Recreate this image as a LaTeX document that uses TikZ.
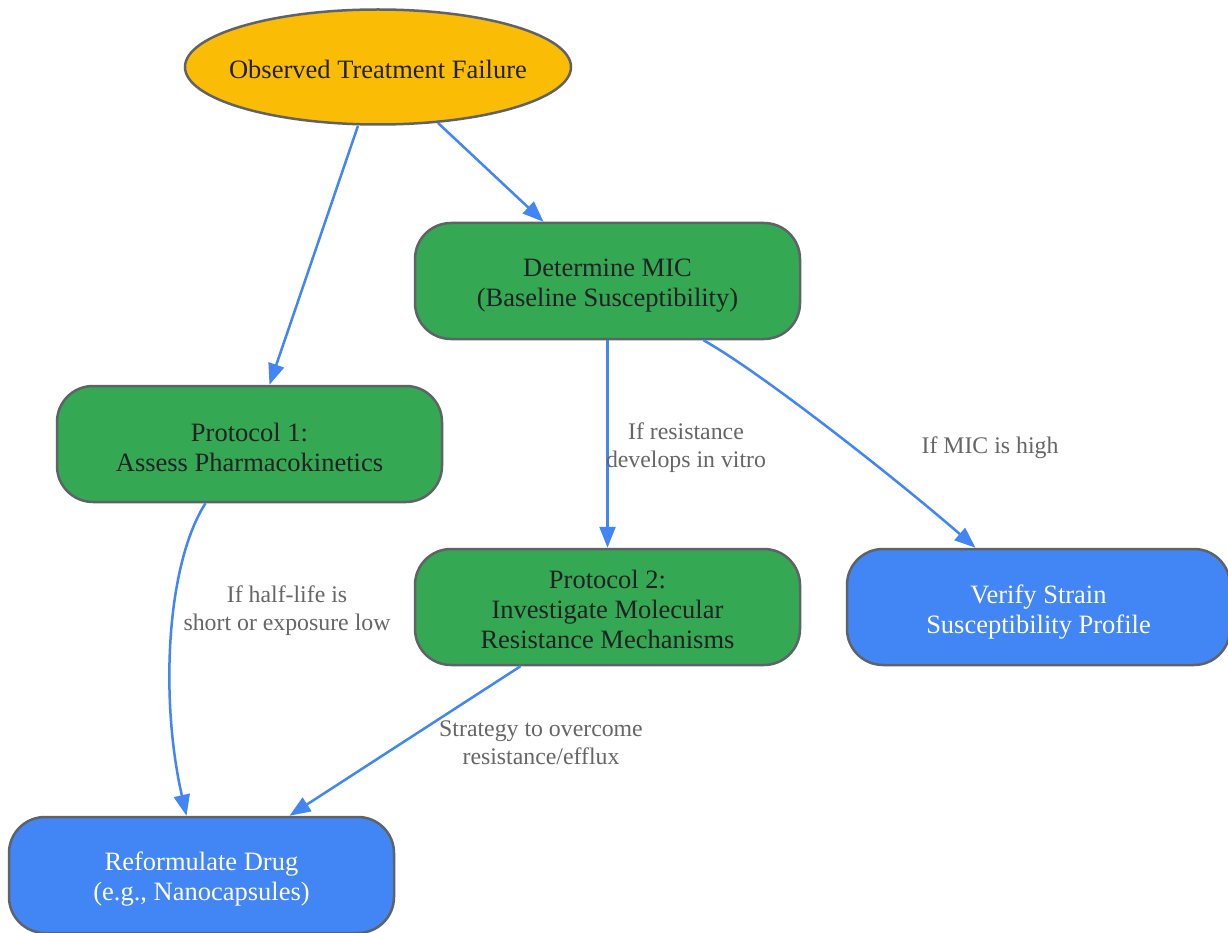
\documentclass[tikz,border=0pt]{standalone}
\usepackage{fontspec}
\setmainfont{Liberation Serif}
\usetikzlibrary{shapes.geometric,arrows.meta,calc}
\definecolor{cyellow}{HTML}{FBBC05}
\definecolor{cgreen}{HTML}{34A853}
\definecolor{cblue}{HTML}{4285F4}
\definecolor{cborder}{HTML}{5F6368}
\definecolor{ctext}{HTML}{202124}
\definecolor{clabel}{HTML}{666666}
\tikzset{
  box/.style={draw=cborder, line width=2.5pt, rounded corners=36pt, minimum width=385pt, minimum height=116pt, inner sep=0pt},
  boxtext/.style={align=center, inner sep=0pt, font=\fontsize{26.5}{30}\selectfont},
  greenbox/.style={box, fill=cgreen},
  bluebox/.style={box, fill=cblue},
  darktext/.style={boxtext, text=ctext},
  whitetext/.style={boxtext, text=white},
  startnode/.style={ellipse, draw=cborder, line width=2.5pt, fill=cyellow, minimum width=386pt, minimum height=115pt, inner sep=0pt},
  conn/.style={draw=cblue, line width=2.5pt, -{Triangle[length=21pt,width=16pt]}},
  lbl/.style={text=clabel, align=center, inner sep=0pt, font=\fontsize{23.8}{28}\selectfont}
}
\begin{document}
\begin{tikzpicture}[x=1pt,y=-1pt]
\useasboundingbox (0,0) rectangle (1228,933);
\clip (0,0) rectangle (1228,933);
\fill[white] (0,0) rectangle (1228,933);
\node[startnode, label={[darktext,yshift=-2pt]center:Observed Treatment Failure}] (start) at (378,67) {};
\node[greenbox, label={[darktext,yshift=-5pt]center:{Determine MIC\\(Baseline Susceptibility)}}] (mic) at (607.5,281) {};
\node[greenbox, label={[darktext,yshift=-3pt]center:{Protocol 1:\\Assess Pharmacokinetics}}] (p1) at (249.5,444) {};
\node[greenbox, label={[darktext,yshift=-2pt]center:{Protocol 2:\\Investigate Molecular\\Resistance Mechanisms}}] (p2) at (607.5,607) {};
\node[bluebox, minimum width=383pt, label={[whitetext,yshift=-5pt]center:{Verify Strain\\Susceptibility Profile}}] (verify) at (1038.5,607) {};
\node[bluebox, label={[whitetext,yshift=-4pt]center:{Reformulate Drug\\(e.g., Nanocapsules)}}] (reform) at (201.5,875) {};

\draw[conn] ([xshift=-20pt]start.south) -- ([xshift=20pt]p1.north);
\draw[conn] (start.-43) -- ([xshift=-64pt]mic.north);
\draw[conn] (mic.south) -- (p2.north);
\draw[conn] ([xshift=96pt]mic.south) .. controls (762,373) and (900,482) .. ([xshift=-63pt]verify.north);
\draw[conn] ([xshift=-44pt]p1.south) .. controls (166,565) and (160,700) .. ([xshift=-15pt]reform.north);
\draw[conn] ([xshift=-87pt]p2.south) -- ([xshift=88pt]reform.north);

\node[lbl] (l3) at (686,448) {If resistance\\develops in vitro};
\node[lbl] (l4) at (990,448) {If MIC is high};
\node[lbl] (l5) at (287,611) {If half-life is\\short or exposure low};
\node[lbl] (l6) at (541,743) {Strategy to overcome\\resistance/efflux};
\end{tikzpicture}
\end{document}
